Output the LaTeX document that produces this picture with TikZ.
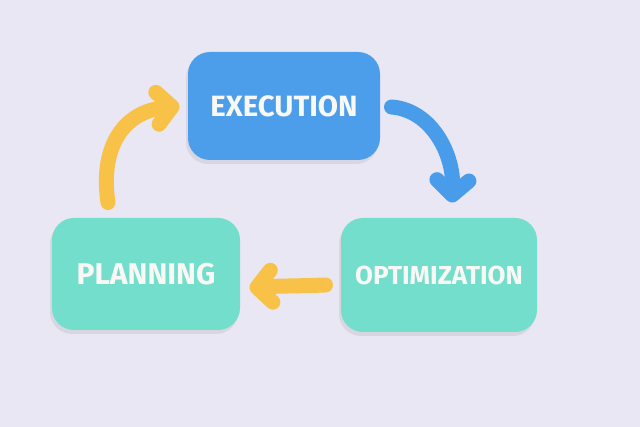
\documentclass[tikz,border=0pt]{standalone}
\usepackage{fontspec}
\setmainfont{Fira Sans}
\usetikzlibrary{arrows.meta,shadows,calc}

\definecolor{bgLavender}{RGB}{233,231,243}
\definecolor{execBlue}{RGB}{76,158,234}
\definecolor{stageTeal}{RGB}{114,222,203}
\definecolor{loopYellow}{RGB}{248,193,72}
\definecolor{loopBlue}{RGB}{72,156,234}
\definecolor{labelWhite}{RGB}{250,248,245}

\tikzset{every picture/.style={line width=0.75pt}}
\tikzset{
  stage/.style={rounded corners=16.5pt, inner sep=0pt, text=labelWhite,
    drop shadow={shadow xshift=-1.5pt, shadow yshift=-3pt, opacity=0.07, fill=black}},
  loop arrow/.style={line width=11.25pt, line cap=round,
    -{Straight Barb[round, length=11pt, width=24pt]}}
}

\begin{document}
\begin{tikzpicture}[x=0.75pt,y=0.75pt,yscale=-1,xscale=1]
\useasboundingbox (0,0) rectangle (640,427);
\fill[bgLavender] (0,0) rectangle (640,427);

%Shape: Rounded Rect (execution)
\node[stage, fill=execBlue, minimum width=144pt, minimum height=81pt,
  font=\bfseries\fontsize{22}{22}\selectfont] (exec) at (284,106) {EXECUTION};
%Shape: Rounded Rect (planning)
\node[stage, fill=stageTeal, minimum width=141pt, minimum height=84pt,
  font=\bfseries\fontsize{22.5}{22.5}\selectfont] (plan) at (146,274) {PLANNING};
%Shape: Rounded Rect (optimization)
\node[stage, fill=stageTeal, minimum width=147pt, minimum height=85.5pt,
  font=\bfseries\fontsize{19.5}{19.5}\selectfont] (opt) at (439,275) {OPTIMIZATION};

%Curve Lines: planning -> execution
\draw[loop arrow, loopYellow] ($(plan.north)+(-38,-15)$) .. controls +(-8,-53) and +(-58,6) .. ($(exec.west)+(-8,0)$);
%Curve Lines: execution -> optimization
\draw[loop arrow, loopBlue] ($(exec.east)+(11,1)$) .. controls +(40,3) and +(2,-48) .. ($(opt.north)+(13,-15)$);
%Curve Lines: optimization -> planning
\draw[loop arrow, loopYellow] ($(opt.west)+(-15,10)$) .. controls +(-25,1) and +(25,-2) .. ($(plan.east)+(9,14)$);

\end{tikzpicture}
\end{document}
